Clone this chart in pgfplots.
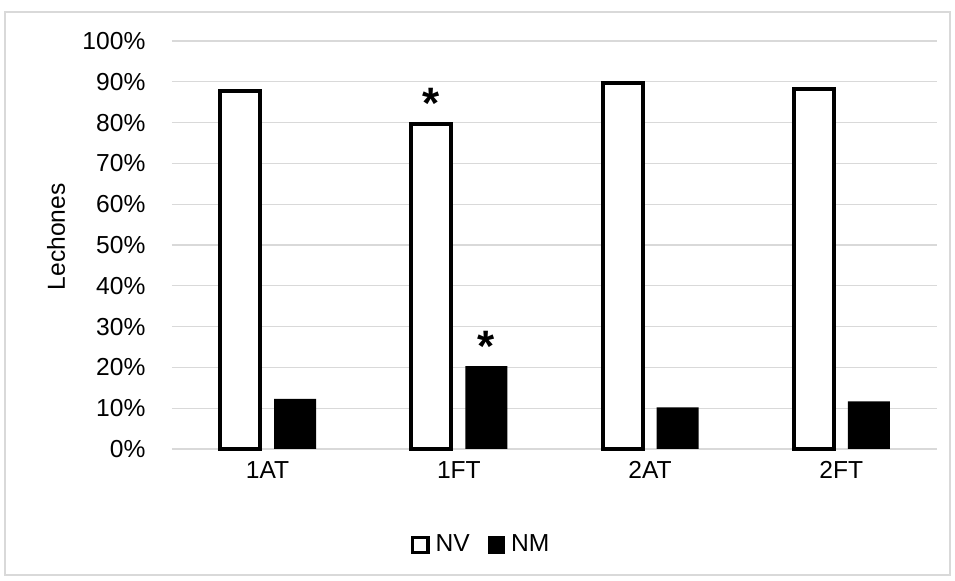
\documentclass[border=0pt]{standalone}
\usepackage{fontspec}
\setmainfont{Liberation Sans}
\usepackage{pgfplots}
\pgfplotsset{compat=1.18}
\definecolor{gridgray}{HTML}{D9D9D9}

\begin{document}
\fontsize{12.3}{14}\selectfont
\begin{tikzpicture}
\useasboundingbox (-86pt,-66pt) rectangle (391.5pt,224.5pt);
\draw[gridgray, line width=0.6pt] (-83.5pt,-63pt) rectangle (389pt,218.5pt);
\begin{axis}[
    at={(0,0)}, anchor=south west,
    scale only axis, width=382.5pt, height=204pt,
    xmin=-0.5, xmax=3.5, ymin=0, ymax=100,
    ytick={0,10,...,100},
    xtick={0,1,2,3}, xticklabels={1AT,1FT,2AT,2FT},
    axis line style={draw=none},
    major tick length=0pt,
    ymajorgrids, grid style={gridgray, line width=0.6pt},
    /pgf/number format/assume math mode=true,
    yticklabel={\pgfmathprintnumber{\tick}\%},
    yticklabel style={xshift=-9pt},
    xticklabel style={yshift=-2pt},
    ylabel={Lechones},
    ylabel style={at={(axis description cs:0,0.52)}, anchor=center, yshift=58pt},
    tick label style={font=\fontsize{12.3}{14}\selectfont},
    label style={font=\fontsize{12.3}{14}\selectfont},
    clip=false,
    legend style={at={(155pt,-48pt)}, anchor=center, draw=none, fill=none,
        legend columns=2, font=\fontsize{12.3}{14}\selectfont,
        /tikz/every even column/.append style={column sep=7pt},
        /tikz/every odd column/.append style={column sep=1pt}},
    legend cell align=left,
]
\addplot[ybar, bar width=20pt, bar shift=-13.75pt, draw=black, fill=white, line width=2pt,
    legend image code/.code={\draw[black, fill=white, line width=1.8pt] (0.9pt,-3.8pt) rectangle (8.6pt,3.8pt);}]
    coordinates {(0,87.7) (1,79.7) (2,89.7) (3,88.2)};
\addlegendentry{NV}
\addplot[ybar, bar width=21pt, bar shift=13.75pt, draw=none, fill=black,
    legend image code/.code={\fill[black] (0pt,-4.3pt) rectangle (8.6pt,4.3pt);}]
    coordinates {(0,12.3) (1,20.3) (2,10.2) (3,11.7)};
\addlegendentry{NM}
\node[font=\fontsize{22}{22}\selectfont\bfseries] at (axis cs:1,79.7) [xshift=-13.75pt, yshift=10pt] {*};
\node[font=\fontsize{22}{22}\selectfont\bfseries] at (axis cs:1,20.3) [xshift=13.75pt, yshift=10pt] {*};
\end{axis}
\end{tikzpicture}
\end{document}
